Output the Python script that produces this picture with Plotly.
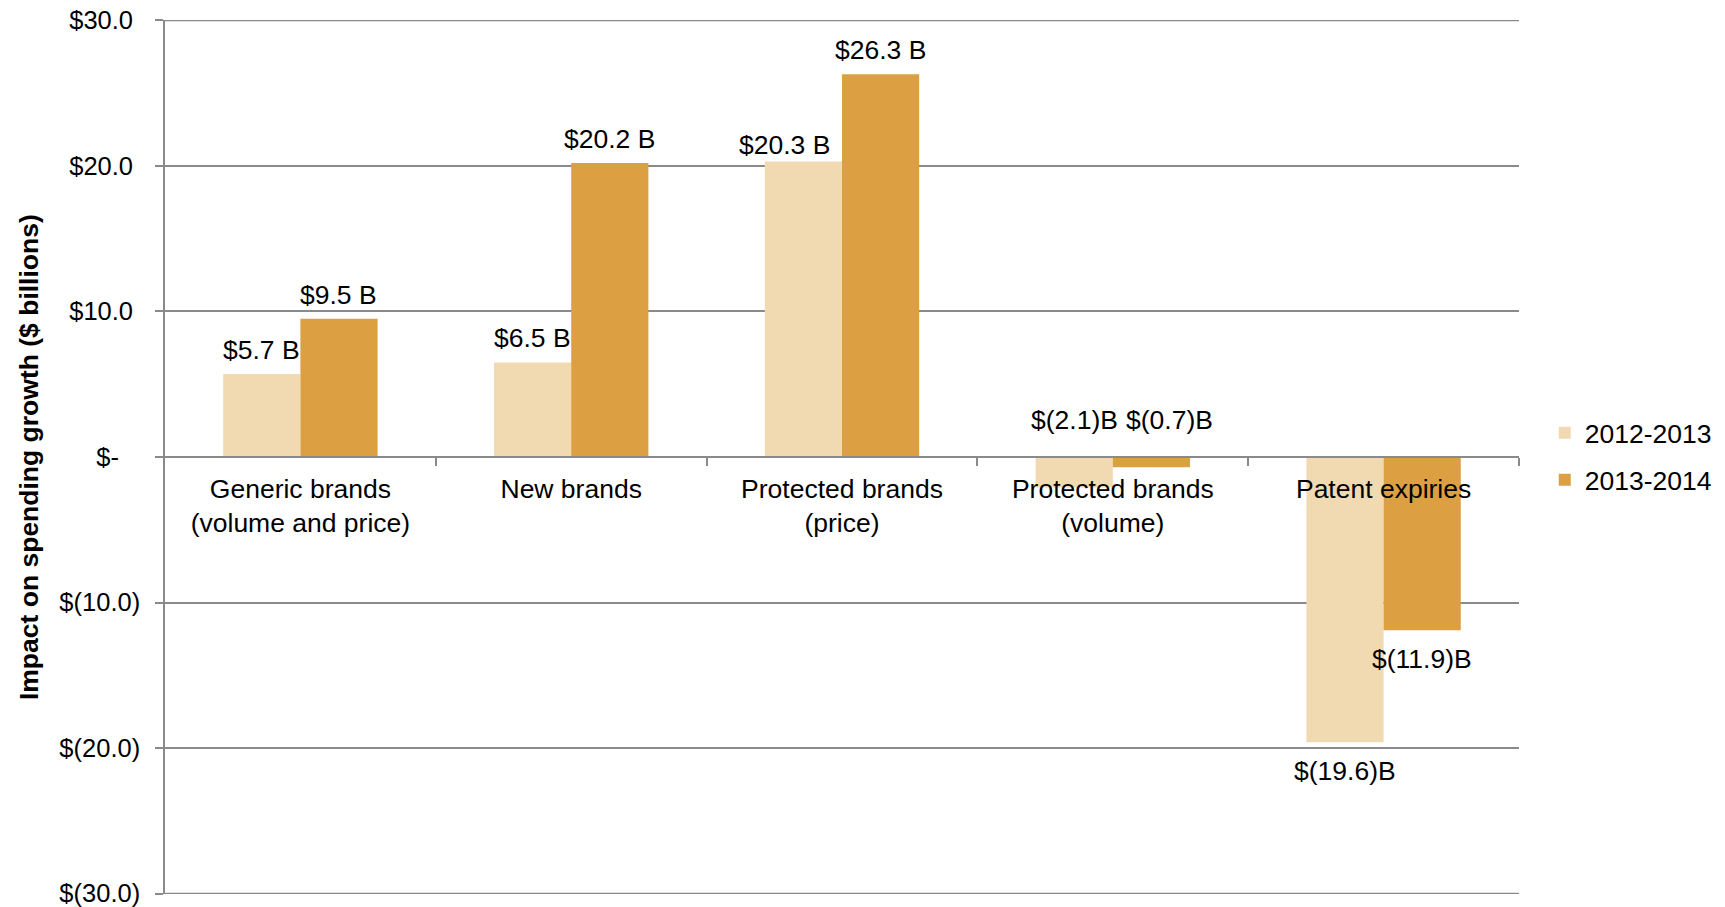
import plotly.graph_objects as go

categories = ["Generic brands<br>(volume and price)", "New brands", "Protected brands<br>(price)",
              "Protected brands<br>(volume)", "Patent expiries"]
series_names = ["2012-2013", "2013-2014"]
values_2012_2013 = [5.7, 6.5, 20.3, -2.1, -19.6]
values_2013_2014 = [9.5, 20.2, 26.3, -0.7, -11.9]
labels_2012_2013 = ["$5.7 B", "$6.5 B", "$20.3 B", "$(2.1)B", "$(19.6)B"]
labels_2013_2014 = ["$9.5 B", "$20.2 B", "$26.3 B", "$(0.7)B", "$(11.9)B"]
y_tickvals = [30, 20, 10, 0, -10, -20, -30]
y_ticktext = ["$30.0", "$20.0", "$10.0", "$-", "$(10.0)", "$(20.0)", "$(30.0)"]

LIGHT = "#F1D9B2"
DARK = "#DCA043"
GRID = "#8A8A8A"
FONT = "Liberation Sans, Arial, sans-serif"
FS = 26.5
FS_Y = 25.5

fig = go.Figure()
x_idx = list(range(len(categories)))
fig.add_trace(go.Bar(x=x_idx, y=values_2012_2013, name=series_names[0], marker_color=LIGHT,
                     marker_line_width=0, legend="legend"))
fig.add_trace(go.Bar(x=x_idx, y=values_2013_2014, name=series_names[1], marker_color=DARK,
                     marker_line_width=0, legend="legend2"))

# y tick text padded like Excel accounting format
pad = {"$-": "\u00a0\u00a0\u00a0"}
ticktext = []
for t in y_ticktext:
    if t.endswith(")"):
        ticktext.append(t)
    elif t in pad:
        ticktext.append(t + pad[t])
    else:
        ticktext.append(t + "\u00a0")

annotations = []
half = (1 - 0.43) / 4  # offset of each bar centre from category centre
tweaks = {(0, 2): (-19, -7), (1, 3): (18, 0)}
for s, (vals, labs) in enumerate([(values_2012_2013, labels_2012_2013),
                                  (values_2013_2014, labels_2013_2014)]):
    for i, (v, lab) in enumerate(zip(vals, labs)):
        xo = i + (-half if s == 0 else half)
        if v >= 0:
            y, ys = v, 24
        elif v > -5:
            y, ys = 0, 37
        else:
            y, ys = v, -29
        dx, dy = tweaks.get((s, i), (0, 0))
        annotations.append(dict(x=xo, y=y, xref="x", yref="y", text=lab, showarrow=False,
                                xanchor="center", yanchor="middle", xshift=dx, yshift=ys + dy,
                                font=dict(size=FS, color="#000000", family=FONT)))

annotations.append(dict(x=-0.1004, y=0.5, xref="paper", yref="paper",
                        text="<b>Impact on spending growth ($ billions)</b>", textangle=-90,
                        showarrow=False, xanchor="center", yanchor="middle",
                        font=dict(size=FS, color="#000000", family=FONT)))

# gridlines at the extreme ticks (plotly omits grid lines at the plot edges)
shapes = [dict(type="line", xref="paper", yref="y", x0=0, x1=1, y0=v, y1=v,
               line=dict(color=GRID, width=1.5), layer="below")
          for v in (max(y_tickvals), min(y_tickvals))]

fig.update_layout(
    width=1725, height=907,
    margin=dict(l=157, r=214, t=12, b=21, autoexpand=False),
    paper_bgcolor="white", plot_bgcolor="white",
    font=dict(family=FONT, size=FS, color="#000000"),
    barmode="group", bargap=0.43, bargroupgap=0,
    annotations=annotations, shapes=shapes,
    legend=dict(x=1.019, y=0.5275, xanchor="left", yanchor="middle",
                font=dict(size=FS, family=FONT, color="#000000"), bgcolor="rgba(0,0,0,0)"),
    legend2=dict(x=1.019, y=0.4737, xanchor="left", yanchor="middle",
                 font=dict(size=FS, family=FONT, color="#000000"), bgcolor="rgba(0,0,0,0)"),
    xaxis=dict(
        type="linear", range=[-0.5, len(categories) - 0.5],
        tickvals=x_idx, ticktext=categories, ticks="",
        showline=False, showgrid=False, zeroline=False,
        anchor="free", position=0.5, automargin=False,
        tickfont=dict(size=FS, family=FONT, color="#000000"),
        ticklabelstandoff=13,
    ),
    xaxis2=dict(
        overlaying="x", range=[-0.5, len(categories) - 0.5], type="linear",
        tickvals=[v + 0.5 for v in x_idx], showticklabels=False,
        ticks="outside", ticklen=8, tickcolor=GRID, tickwidth=1.5,
        showline=True, linecolor=GRID, linewidth=1.5, showgrid=False, zeroline=False,
        anchor="free", position=0.5, automargin=False,
    ),
    yaxis=dict(
        range=[-30.03, 30.03], tickvals=y_tickvals, ticktext=ticktext,
        ticks="outside", ticklen=8, tickcolor=GRID, tickwidth=1.5,
        showline=True, linecolor=GRID, linewidth=1.5,
        showgrid=True, gridcolor=GRID, gridwidth=1.5, zeroline=False, automargin=False,
        tickfont=dict(size=FS_Y, family=FONT, color="#000000"),
        ticklabelstandoff=10, ticklabeloverflow="allow",
    ),
)
# invisible trace to activate xaxis2
fig.add_trace(go.Scatter(x=[0], y=[0], xaxis="x2", mode="markers", marker=dict(opacity=0),
                         showlegend=False, hoverinfo="skip"))

fig.write_html("out.html")
